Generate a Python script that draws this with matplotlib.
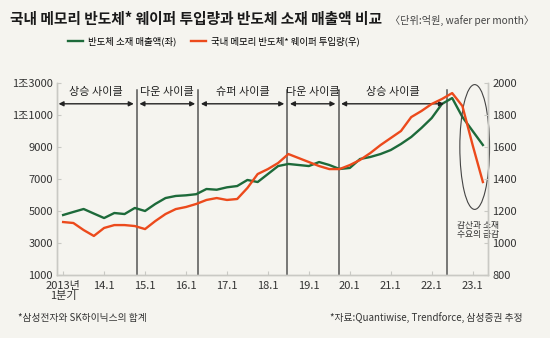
import numpy as np
import matplotlib as mpl
import matplotlib.pyplot as plt
from matplotlib.patches import Ellipse

plt.rcParams['font.family'] = ['Noto Sans CJK KR', 'DejaVu Sans']

# quarterly data, 2013 Q1 .. 2023 Q2
sales = [4750, 4940, 5125, 4840, 4560, 4875, 4810, 5190, 5000, 5440,
         5810, 5940, 5980, 6050, 6375, 6330, 6480, 6560, 6940, 6810,
         7310, 7810, 7940, 7875, 7810, 8060, 7875, 7625, 7690, 8250,
         8375, 8560, 8810, 9190, 9625, 10190, 10810, 11690, 12060, 10875,
         10000, 9125]
wafer = [1131, 1125, 1081, 1044, 1094, 1112, 1112, 1106, 1087, 1137,
         1181, 1212, 1225, 1244, 1269, 1281, 1269, 1275, 1344, 1431,
         1462, 1500, 1556, 1531, 1506, 1481, 1462, 1462, 1487, 1519,
         1562, 1612, 1656, 1700, 1787, 1825, 1869, 1900, 1937, 1856,
         1612, 1381]
xlabels = ['2013년\n1분기', '14.1', '15.1', '16.1', '17.1', '18.1',
           '19.1', '20.1', '21.1', '22.1', '23.1']
left_ticks = [1000, 3000, 5000, 7000, 9000, 11000, 13000]
left_labels = ['1000', '3000', '5000', '7000', '9000', '1조1000', '1조3000']
right_ticks = [800, 1000, 1200, 1400, 1600, 1800, 2000]
cycle_edges = [-0.6, 7.2, 13.2, 21.9, 26.9, 37.5]
cycle_names = ['상승 사이클', '다운 사이클', '슈퍼 사이클', '다운 사이클', '상승 사이클']

bg = '#f5f4ef'
green = '#1d6a3a'
red = '#ec4a1c'
txt = '#333333'
spine = '#c9c9c4'

fig = plt.figure(figsize=(5.5, 3.38), dpi=100, facecolor=bg)
ax = fig.add_axes([57/550, 1-275/338, (488-57)/550, (275-83)/338])
ax.set_facecolor(bg)
ax2 = ax.twinx()

q = np.arange(len(sales))
ax.plot(q, sales, color=green, lw=1.7, zorder=3)
ax2.plot(q, wafer, color=red, lw=1.7, zorder=3)

ax.set_xlim(-0.6, 41.5)
ax.set_ylim(1000, 13000)
ax2.set_ylim(800, 2000)
ax.set_xticks(np.arange(0, 41, 4))
ax.set_xticklabels(xlabels, fontsize=8, color=txt, linespacing=1.0)
ax.set_yticks(left_ticks)
ax.set_yticklabels(left_labels, fontsize=8, color=txt)
ax2.set_yticks(right_ticks)
ax2.set_yticklabels([str(v) for v in right_ticks], fontsize=8, color=txt)
for a in (ax, ax2):
    for s in a.spines.values():
        s.set_color(spine)
        s.set_linewidth(1)
    a.spines['top'].set_visible(False)
    a.tick_params(direction='in', length=3, color=spine, pad=3)
ax.tick_params(axis='x', pad=4)

# cycle separators, arrows and labels
top = 12560
for e in cycle_edges[1:]:
    ax.plot([e, e], [1000, top], color='#555555', lw=1.1, zorder=2)
for i, name in enumerate(cycle_names):
    x0, x1 = cycle_edges[i] + 0.15, cycle_edges[i + 1] - 0.3
    if i > 0:
        x0 = cycle_edges[i] + 0.25
    ax.annotate('', xy=(x0, 11700), xytext=(x1, 11700),
                arrowprops=dict(arrowstyle='<|-|>', color='#222222', lw=1,
                                mutation_scale=7, shrinkA=0, shrinkB=0))
    ax.text((x0 + x1) / 2, 12450, name, ha='center', va='center',
            fontsize=8, color='#222222')

ax.add_patch(Ellipse((40.2, 9000), 2.9, 7800, fill=False, ec='#444444',
                     lw=0.8, zorder=4, clip_on=False))
ax.text(38.5, 3800, '감산과 소재\n수요의 급감', fontsize=6.3, color=txt,
        ha='left', va='center', linespacing=1.0, zorder=5)

fig.text(10/550, 1-19/338, '국내 메모리 반도체* 웨이퍼 투입량과 반도체 소재 매출액 비교',
         fontsize=10.6, fontweight='bold', color='#1a1a1a', va='center')
fig.text(390/550, 1-20/338, '〈단위:억원, wafer per month〉', fontsize=7.3,
         color='#444444', va='center')

handles = [mpl.lines.Line2D([0], [0], color=green, lw=1.7),
           mpl.lines.Line2D([0], [0], color=red, lw=1.7)]
fig.legend(handles, ['반도체 소재 매출액(좌)', '국내 메모리 반도체* 웨이퍼 투입량(우)'],
           loc='center left', bbox_to_anchor=(68/550, 1-41/338), ncol=2,
           frameon=False, fontsize=6.8, handlelength=1.6, handletextpad=0.5,
           columnspacing=1.6, borderpad=0, borderaxespad=0)

fig.text(18/550, 1-318/338, '*삼성전자와 SK하이닉스의 합계', fontsize=7,
         color=txt, va='center')
fig.text(523/550, 1-318/338, '*자료:Quantiwise, Trendforce, 삼성증권 추정',
         fontsize=7, color=txt, va='center', ha='right')

fig.savefig('out.png', dpi=100, facecolor=bg)
